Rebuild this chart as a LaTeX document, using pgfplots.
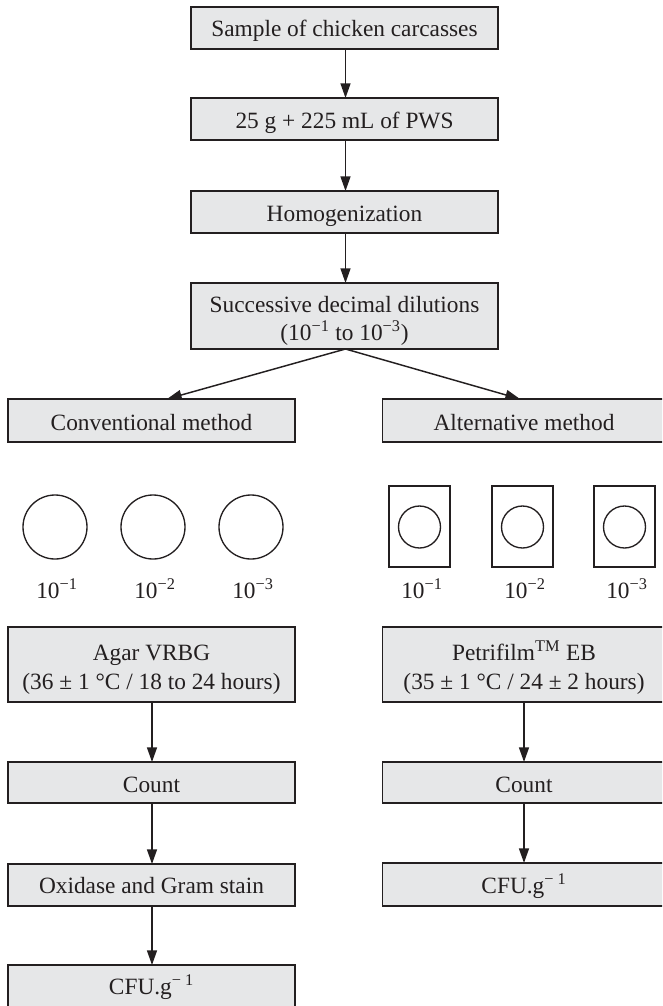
\documentclass[border=0pt]{standalone}
\usepackage{pgfplots}
\pgfplotsset{compat=1.18}
\usepackage{fontspec}
\setmainfont{Liberation Serif}
\usetikzlibrary{arrows.meta}
\definecolor{boxfill}{HTML}{E6E7E8}
\definecolor{ink}{HTML}{231F20}
\begin{document}
\begin{tikzpicture}[font=\fontsize{17.5}{21.75}\selectfont,
  box/.style={draw=ink, fill=boxfill, line width=1.1pt},
  arr/.style={-{Triangle[length=11pt,width=7.5pt]}, draw=ink, line width=1.1pt},
  plate/.style={draw=ink, line width=1pt},
  lab/.style={anchor=base, text=ink, inner sep=0pt}]
\begin{axis}[width=496.5pt,height=754.5pt,scale only axis,
  xmin=0,xmax=662,ymin=0,ymax=1006,y dir=reverse,hide axis,clip=true]
% central column
\draw[box] (axis cs:191,7) rectangle (axis cs:498,49);
\node[lab] at (axis cs:344.5,37) {Sample of chicken carcasses};
\draw[box] (axis cs:191,98) rectangle (axis cs:498,140);
\node[lab] at (axis cs:344.5,128) {25 g + 225 mL of PWS};
\draw[box] (axis cs:191,191) rectangle (axis cs:498,233);
\node[lab] at (axis cs:344.5,221) {Homogenization};
\draw[box] (axis cs:191,283) rectangle (axis cs:498,349);
\node[lab] at (axis cs:344.5,312) {Successive decimal dilutions};
\node[lab] at (axis cs:344.5,340) {(10\textsuperscript{−1} to 10\textsuperscript{−3})};
\draw[arr] (axis cs:345.5,49) -- (axis cs:345.5,98);
\draw[arr] (axis cs:345.5,140) -- (axis cs:345.5,191);
\draw[arr] (axis cs:345.5,233) -- (axis cs:345.5,283);
\draw[arr] (axis cs:345.5,349) -- (axis cs:167,399);
\draw[arr] (axis cs:345.5,349) -- (axis cs:520,399);
% method boxes
\draw[box] (axis cs:8,399) rectangle (axis cs:295,442);
\node[lab] at (axis cs:151.5,430) {Conventional method};
\draw[box] (axis cs:382.5,399) rectangle (axis cs:670,442);
\node[lab] at (axis cs:524,430) {Alternative method};
% plates
\draw[plate] (axis cs:55,527) circle[radius=24pt];
\draw[plate] (axis cs:153,527) circle[radius=24pt];
\draw[plate] (axis cs:251,527) circle[radius=24pt];
\node[lab] at (axis cs:57,598) {10\textsuperscript{−1}};
\node[lab] at (axis cs:155,598) {10\textsuperscript{−2}};
\node[lab] at (axis cs:253,598) {10\textsuperscript{−3}};
\draw[plate] (axis cs:389,486) rectangle (axis cs:450,567);
\draw[plate] (axis cs:492,486) rectangle (axis cs:553,567);
\draw[plate] (axis cs:594,486) rectangle (axis cs:655,567);
\draw[plate] (axis cs:419.5,527) circle[radius=15.75pt];
\draw[plate] (axis cs:522.5,527) circle[radius=15.75pt];
\draw[plate] (axis cs:624.5,527) circle[radius=15.75pt];
\node[lab] at (axis cs:422,598) {10\textsuperscript{−1}};
\node[lab] at (axis cs:525,598) {10\textsuperscript{−2}};
\node[lab] at (axis cs:627,598) {10\textsuperscript{−3}};
% left column
\draw[box] (axis cs:8,627) rectangle (axis cs:295,702);
\node[lab] at (axis cs:151.5,660) {Agar VRBG};
\node[lab] at (axis cs:151.5,689) {(36 ± 1 °C / 18 to 24 hours)};
\draw[arr] (axis cs:152,702) -- (axis cs:152,762);
\draw[box] (axis cs:8,762) rectangle (axis cs:295,803);
\node[lab] at (axis cs:151.5,792) {Count};
\draw[arr] (axis cs:152,803) -- (axis cs:152,864);
\draw[box] (axis cs:8,864) rectangle (axis cs:295,906);
\node[lab] at (axis cs:151.5,893) {Oxidase and Gram stain};
\draw[arr] (axis cs:152,906) -- (axis cs:152,965);
\draw[box] (axis cs:8,965) rectangle (axis cs:295,1020);
\node[lab] at (axis cs:151.5,994) {CFU.g\textsuperscript{− 1}};
% right column
\draw[box] (axis cs:382.5,627) rectangle (axis cs:670,702);
\node[lab] at (axis cs:524,660) {Petrifilm\textsuperscript{TM} EB};
\node[lab] at (axis cs:524,689) {(35 ± 1 °C / 24 ± 2 hours)};
\draw[arr] (axis cs:524,702) -- (axis cs:524,762);
\draw[box] (axis cs:382.5,762) rectangle (axis cs:670,803);
\node[lab] at (axis cs:524,792) {Count};
\draw[arr] (axis cs:524,803) -- (axis cs:524,863);
\draw[box] (axis cs:382.5,863) rectangle (axis cs:670,906);
\node[lab] at (axis cs:524,893) {CFU.g\textsuperscript{− 1}};
\end{axis}
\pgfresetboundingbox
\useasboundingbox (current axis.south west) rectangle (current axis.north east);
\end{tikzpicture}
\end{document}
